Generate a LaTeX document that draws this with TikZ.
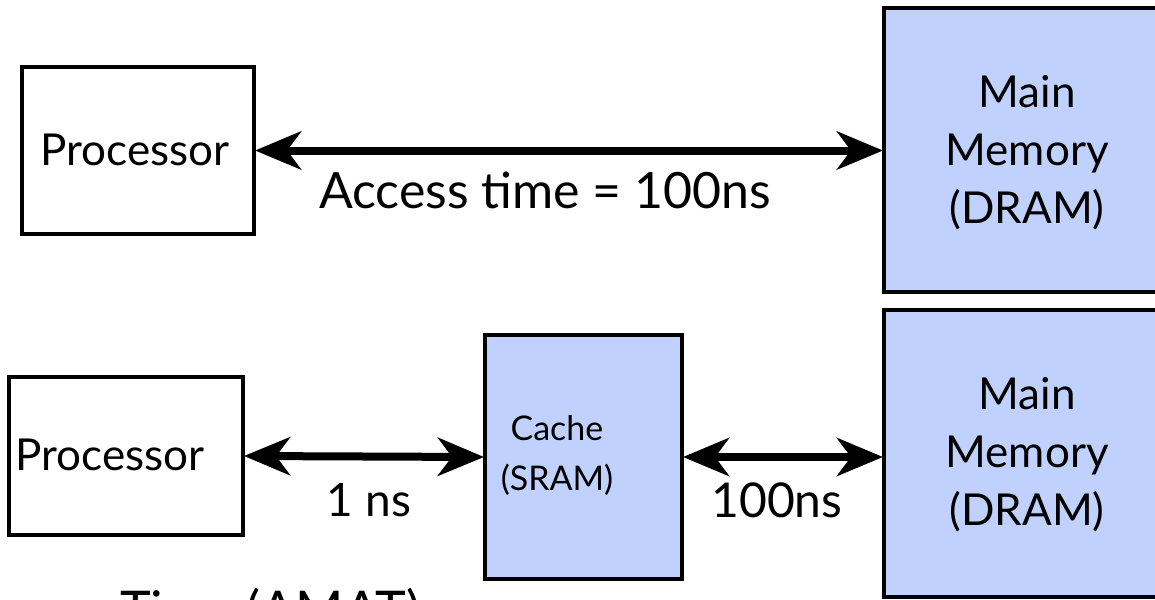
\documentclass[tikz,border=0pt]{standalone}
\usepackage{fontspec}
\setmainfont{Lato}
\usetikzlibrary{arrows.meta}
\definecolor{boxblue}{HTML}{BFD1FC}
\tikzset{
  box/.style={draw=black, line width=4pt, inner sep=0pt, anchor=north west},
  bluebox/.style={box, fill=boxblue},
  conn/.style={line width=8pt, {Stealth[length=46pt,width=38pt,inset=14pt]}-{Stealth[length=46pt,width=38pt,inset=14pt]}, shorten <=-1pt, shorten >=-1pt},
  bigtxt/.style={font=\fontsize{44}{58}\selectfont, align=center, inner sep=0pt},
  midtxt/.style={font=\fontsize{34}{50}\selectfont, align=center, inner sep=0pt},
}
\begin{document}
\begin{tikzpicture}[x=1pt,y=-1pt]
\useasboundingbox (0,0) rectangle (1155,599);
\clip (0,0) rectangle (1155,599);
% top row
\node[box, minimum width=232pt, minimum height=167pt] (p1) at (20,65) {};
\node[bigtxt] (p1t) at (135,150) {Processor};
\node[bluebox, minimum width=290pt, minimum height=284pt] (m1) at (882,6) {};
\node[bigtxt] (m1t) at (1027,153) {Main\\Memory\\(DRAM)};
\draw[conn] (p1.east) -- (p1.east -| m1.west);
\node[bigtxt, font=\fontsize{50}{58}\selectfont] (acc) at (545,190) {Access time = 100ns};
% bottom row
\node[box, minimum width=234pt, minimum height=158pt] (p2) at (7,375) {};
\node[bigtxt] (p2t) at (110,455) {Processor};
\node[bluebox, minimum width=197pt, minimum height=244pt] (c) at (483,333) {};
\node[midtxt] (ct) at (557,455) {Cache\\(SRAM)};
\node[bluebox, minimum width=290pt, minimum height=287pt] (m2) at (882,308) {};
\node[bigtxt] (m2t) at (1027,455) {Main\\Memory\\(DRAM)};
\draw[conn] (p2.east) -- (c.west);
\draw[conn] (c.east) -- (c.east -| m2.west);
\node[bigtxt, font=\fontsize{46}{58}\selectfont] (l1) at (369,500) {1 ns};
\node[bigtxt, font=\fontsize{48}{58}\selectfont] (l2) at (777,500) {100ns};
\node[bigtxt, font=\fontsize{52}{58}\selectfont, anchor=north west] (amat) at (120,588) {Time (AMAT)};
\end{tikzpicture}
\end{document}
